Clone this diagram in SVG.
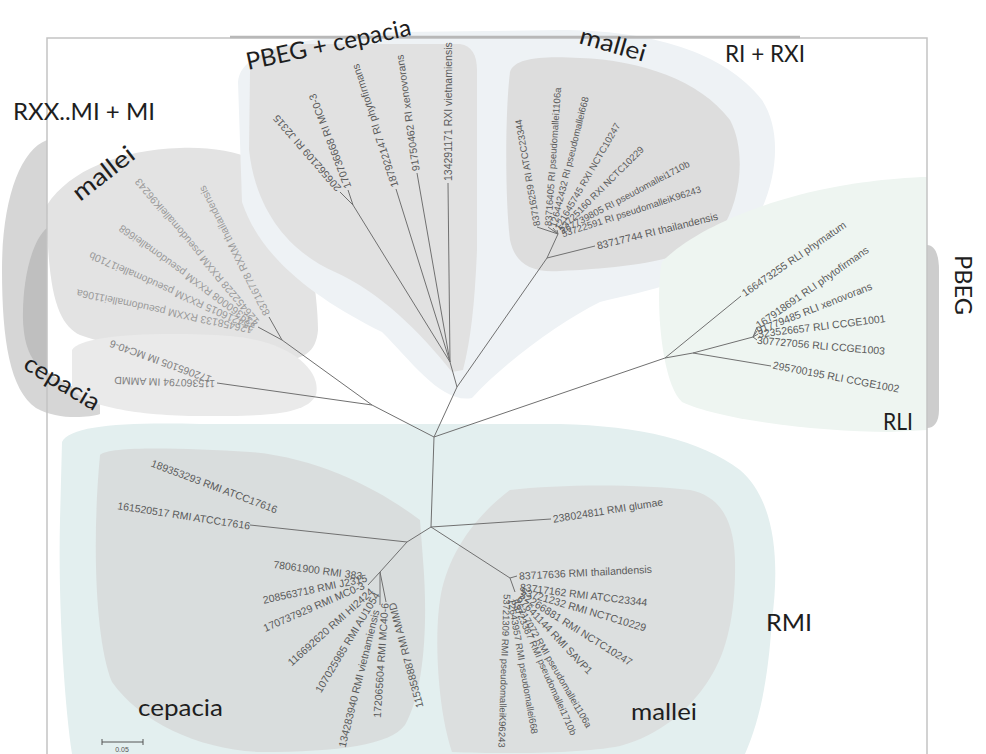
<svg xmlns="http://www.w3.org/2000/svg" width="986" height="754" viewBox="0 0 986 754">
  <style>
    .edge { stroke: #707070; stroke-width: 1; fill: none; }
    .lbl { font-family: "Liberation Sans", Arial, sans-serif; font-size: 10.5px; fill: #5a5a5a; }
    .sm { font-size: 9.5px; }
    .faint { fill: #9a9a9a; }
    .mid { fill: #808080; }
    .grp { font-family: Lato, "Open Sans", sans-serif; font-size: 24px; fill: #1e1e1e; }
    .frame { stroke: #c4c4c4; stroke-width: 1.5; fill: none; }
  </style>

  <rect width="986" height="754" fill="#ffffff"/>

  <!-- shaded clade regions -->
  <g id="regions">
    <!-- left side: RXX..MI + MI -->
    <path d="M47,140 C20,150 2,200 2,270 C2,340 10,390 36,408 C56,420 88,418 100,414 L100,398 C80,392 60,380 47,372 Z" fill="#d6d6d6"/>
    <path d="M47,228 C32,240 22,280 23,320 C24,350 34,366 47,372 Z" fill="#bfbfbf"/>
    <path d="M47,205 C70,170 120,150 180,148 C230,146 280,160 295,200 C310,240 318,300 318,330 C316,355 300,362 270,360 C200,358 120,350 80,335 C60,325 47,300 47,205 Z" fill="#e3e3e3"/>
    <path d="M72,350 C80,336 150,331 230,336 C290,341 322,370 316,395 C306,416 260,416 200,416 C140,416 80,406 72,388 Z" fill="#eaeaea"/>

    <!-- top: PBEG + cepacia and RI + RXI -->
    <path d="M238,82 C240,50 300,36 400,32 L560,30 C650,30 725,52 762,100 C788,140 772,205 742,242 C705,282 640,292 600,302 C560,322 505,362 472,398 C442,404 412,362 382,332 C322,302 262,262 242,202 Z" fill="#eef2f5"/>
    <path d="M250,72 C252,52 275,46 310,44 L460,44 C472,46 477,55 477,70 L477,250 C475,300 471,340 463,370 L452,372 C420,332 380,292 335,272 C290,252 256,212 249,150 Z" fill="#e1e1e1"/>
    <path d="M510,72 C515,58 540,56 580,58 C640,60 700,80 730,120 C746,150 742,200 720,232 C690,262 620,268 560,271 C530,273 515,263 510,240 C505,200 505,112 510,72 Z" fill="#dddddd"/>

    <!-- right: RLI and PBEG -->
    <path d="M662,262 C690,232 760,200 840,186 C880,179 915,177 927,177 L927,430 L890,432 C820,432 720,420 682,402 C660,382 655,292 662,262 Z" fill="#eef5f1"/>
    <path d="M927,245 C935,245 939,255 939,270 L939,410 C939,422 934,428 927,428 Z" fill="#cdcdcd"/>

    <!-- bottom: RMI -->
    <path d="M62,442 C70,426 120,422 200,424 L560,424 C640,426 700,440 740,470 C775,500 780,560 772,620 C768,680 760,720 745,754 L72,754 C64,700 58,600 60,520 Z" fill="#e3efef"/>
    <path d="M100,455 C110,446 180,448 250,452 C320,458 380,490 420,520 L423,560 C428,620 425,690 405,725 C390,745 340,752 260,752 C200,750 140,722 112,682 C95,640 92,540 100,455 Z" fill="#d9dddd"/>
    <path d="M510,490 C560,484 640,484 690,490 C720,496 734,520 735,560 C736,610 728,650 710,678 C690,710 660,735 620,746 C580,754 500,754 452,752 C438,710 434,640 440,600 C446,560 470,520 510,490 Z" fill="#dcdfdf"/>
  </g>

  <!-- plot frame -->
  <path class="frame" d="M47,754 L47,38 L927,38 L927,754"/>
  <path d="M230,37 L800,37" stroke="#b8b8b8" stroke-width="2.5" fill="none"/>

  <!-- tree branches -->
  <g id="edges" class="edge">
    <path d="M434,437 L457,387 L450,362"/>
    <path d="M450,362 L448,183 M450,362 L417,173 M450,362 L396,189 M450,362 L353,205 L348,190 M353,205 L340,192"/>
    <path d="M457,387 L547,258 L595,246 M547,258 L558,234"/>
    <path d="M558,234 L537,227 M558,234 L548,227 M558,234 L553,228 M558,234 L557,230"/>
    <path d="M434,437 L665,358 L741,296 M665,358 L693,353 L771,366 M693,353 L753,337"/>
    <path d="M753,337 L757,327 M753,337 L757,331 M753,337 L758,334 M753,337 L757,340"/>
    <path d="M434,437 L372,405 L217,383 M372,405 L282,340 L269,317 M282,340 L258,327"/>
    <path d="M434,437 L431,527 L551,519 M431,527 L510,578 L517,576 M510,578 L515,592"/>
    <path d="M431,527 L407,542 L250,525 M407,542 L380,572 L368,585 M380,572 L380,605 M380,572 L386,602"/>
  </g>

  <!-- PBEG + cepacia leaves -->
  <g id="leaf-pbeg-1"><text class="lbl" transform="translate(448,181) rotate(-90)" dy="0.35em">134291171 RXI vietnamiensis</text></g>
  <g id="leaf-pbeg-2"><text class="lbl" transform="translate(416,171) rotate(-98)" dy="0.35em">91750462 RI xenovorans</text></g>
  <g id="leaf-pbeg-3"><text class="lbl" transform="translate(395,187) rotate(-108)" dy="0.35em">187922147 RI phytofirmans</text></g>
  <g id="leaf-pbeg-4"><text class="lbl" transform="translate(348,188) rotate(-111)" dy="0.35em">170736668 RI MC0-3</text></g>
  <g id="leaf-pbeg-5"><text class="lbl" transform="translate(339,190) rotate(-131)" dy="0.35em">206562109 RI J2315</text></g>

  <!-- RI + RXI mallei leaves -->
  <g id="leaf-ri-1"><text class="lbl sm" transform="translate(537,226) rotate(-100)" dy="0.35em">83716259 RI ATCC23344</text></g>
  <g id="leaf-ri-2"><text class="lbl sm" transform="translate(548,226) rotate(-86)" dy="0.35em">83716405 RI pseudomallei1106a</text></g>
  <g id="leaf-ri-3"><text class="lbl sm" transform="translate(553,227) rotate(-76)" dy="0.35em">126442432 RI pseudomallei668</text></g>
  <g id="leaf-ri-4"><text class="lbl sm" transform="translate(557,229) rotate(-60)" dy="0.35em">121645745 RXI NCTC10247</text></g>
  <g id="leaf-ri-5"><text class="lbl sm" transform="translate(560,230) rotate(-45)" dy="0.35em">53725160 RXI NCTC10229</text></g>
  <g id="leaf-ri-6"><text class="lbl sm" transform="translate(561,231) rotate(-28)" dy="0.35em">167739805 RI pseudomallei1710b</text></g>
  <g id="leaf-ri-7"><text class="lbl sm" transform="translate(562,234) rotate(-18)" dy="0.35em">53722591 RI pseudomalleiK96243</text></g>
  <g id="leaf-ri-8"><text class="lbl" transform="translate(597,246) rotate(-14)" dy="0.35em">83717744 RI thailandensis</text></g>

  <!-- RLI leaves -->
  <g id="leaf-rli-1"><text class="lbl" transform="translate(743,294) rotate(-34.6)" dy="0.35em">166473255 RLI phymatum</text></g>
  <g id="leaf-rli-2"><text class="lbl" transform="translate(757,326) rotate(-35)" dy="0.35em">167918691 RLI phytofirmans</text></g>
  <g id="leaf-rli-3"><text class="lbl" transform="translate(757,331) rotate(-21.6)" dy="0.35em">91779485 RLI xenovorans</text></g>
  <g id="leaf-rli-4"><text class="lbl" transform="translate(758,334) rotate(-7)" dy="0.35em">323526657 RLI CCGE1001</text></g>
  <g id="leaf-rli-5"><text class="lbl" transform="translate(757,340) rotate(5)" dy="0.35em">307727056 RLI CCGE1003</text></g>
  <g id="leaf-rli-6"><text class="lbl" transform="translate(773,365) rotate(10.8)" dy="0.35em">295700195 RLI CCGE1002</text></g>

  <!-- RXX..MI mallei leaves -->
  <g id="leaf-rxx-1"><text class="lbl faint" transform="translate(267,315) rotate(-117)" dy="0.35em">83716778 RXXM thailandensis</text></g>
  <g id="leaf-rxx-2"><text class="lbl faint" transform="translate(257,323) rotate(-130)" dy="0.35em">126452228 RXXM pseudomalleiK96243</text></g>
  <g id="leaf-rxx-3"><text class="lbl faint" transform="translate(256,326) rotate(-144)" dy="0.35em">239360008 RXXM pseudomallei668</text></g>
  <g id="leaf-rxx-4"><text class="lbl faint" transform="translate(254,328) rotate(-156)" dy="0.35em">254216015 RXXM pseudomallei1710b</text></g>
  <g id="leaf-rxx-5"><text class="lbl faint" transform="translate(252,330) rotate(-168)" dy="0.35em">126458133 RXXM pseudomallei1106a</text></g>

  <!-- MI cepacia leaves -->
  <g id="leaf-mi-1"><text class="lbl mid" transform="translate(215,384) rotate(182)" dy="0.35em">115360794 IM AMMD</text></g>
  <g id="leaf-mi-2"><text class="lbl mid" transform="translate(211,380) rotate(200)" dy="0.35em">172065105 IM MC40-6</text></g>

  <!-- RMI leaves -->
  <g id="leaf-rmi-glumae"><text class="lbl" transform="translate(553,519) rotate(-9)" dy="0.35em">238024811 RMI glumae</text></g>
  <g id="leaf-rmi-m1"><text class="lbl" transform="translate(519,576) rotate(-3)" dy="0.35em">83717636 RMI thailandensis</text></g>
  <g id="leaf-rmi-m2"><text class="lbl" transform="translate(520,587) rotate(7)" dy="0.35em">83717162 RMI ATCC23344</text></g>
  <g id="leaf-rmi-m3"><text class="lbl" transform="translate(521,591) rotate(16.5)" dy="0.35em">53721232 RMI NCTC10229</text></g>
  <g id="leaf-rmi-m4"><text class="lbl" transform="translate(521,594) rotate(32)" dy="0.35em">52266881 RMI NCTC10247</text></g>
  <g id="leaf-rmi-m5"><text class="lbl" transform="translate(519,597) rotate(46.5)" dy="0.35em">67641144 RMI SAVP1</text></g>
  <g id="leaf-rmi-m6"><text class="lbl sm" transform="translate(516,600) rotate(60)" dy="0.35em">76217072 RMI pseudomallei1106a</text></g>
  <g id="leaf-rmi-m7"><text class="lbl sm" transform="translate(514,600) rotate(66)" dy="0.35em">53723387 RMI pseudomallei1710b</text></g>
  <g id="leaf-rmi-m8"><text class="lbl sm" transform="translate(511,599) rotate(80)" dy="0.35em">12643957 RMI pseudomallei668</text></g>
  <g id="leaf-rmi-m9"><text class="lbl sm" transform="translate(507,594) rotate(92)" dy="0.35em">53721309 RMI pseudomalleiK96243</text></g>

  <g id="leaf-rmi-c1"><text class="lbl" text-anchor="end" transform="translate(277,510) rotate(20.6)" dy="0.35em">189353293 RMI ATCC17616</text></g>
  <g id="leaf-rmi-c2"><text class="lbl" text-anchor="end" transform="translate(250,526) rotate(8.8)" dy="0.35em">161520517 RMI ATCC17616</text></g>
  <g id="leaf-rmi-c3"><text class="lbl" text-anchor="end" transform="translate(362,576) rotate(7.5)" dy="0.35em">78061900 RMI 383</text></g>
  <g id="leaf-rmi-c4"><text class="lbl" text-anchor="end" transform="translate(367,578) rotate(-12)" dy="0.35em">208563718 RMI J2315</text></g>
  <g id="leaf-rmi-c5"><text class="lbl" text-anchor="end" transform="translate(364,585) rotate(-23.5)" dy="0.35em">170737929 RMI MC0-3</text></g>
  <g id="leaf-rmi-c6"><text class="lbl" text-anchor="end" transform="translate(372,590) rotate(-41.7)" dy="0.35em">116692620 RMI HI2424</text></g>
  <g id="leaf-rmi-c7"><text class="lbl" text-anchor="end" transform="translate(377,593) rotate(-59)" dy="0.35em">107025985 RMI AU1054</text></g>
  <g id="leaf-rmi-c8"><text class="lbl" text-anchor="end" transform="translate(376,610) rotate(-76)" dy="0.35em">134283940 RMI vietnamiensis</text></g>
  <g id="leaf-rmi-c9"><text class="lbl" text-anchor="end" transform="translate(385,603) rotate(-86)" dy="0.35em">172065604 RMI MC40-6</text></g>
  <g id="leaf-rmi-c10"><text class="lbl" text-anchor="end" transform="translate(392,603) rotate(-105)" dy="0.35em">115358887 RMI AMMD</text></g>

  <!-- clade captions -->
  <g id="cap-rxx"><text class="grp" x="13" y="120" textLength="142" lengthAdjust="spacingAndGlyphs">RXX..MI + MI</text></g>
  <g id="cap-rxx-mallei"><text class="grp" transform="translate(80,202) rotate(-38)" textLength="72" lengthAdjust="spacingAndGlyphs">mallei</text></g>
  <g id="cap-rxx-cepacia"><text class="grp" transform="translate(22,368) rotate(31)" textLength="84" lengthAdjust="spacingAndGlyphs">cepacia</text></g>
  <g id="cap-pbeg-cepacia"><text class="grp" transform="translate(248,70) rotate(-12)" textLength="168" lengthAdjust="spacingAndGlyphs">PBEG + cepacia</text></g>
  <g id="cap-ri-mallei"><text class="grp" transform="translate(578,43) rotate(16)" textLength="68" lengthAdjust="spacingAndGlyphs">mallei</text></g>
  <g id="cap-ri"><text class="grp" x="725" y="62" textLength="80" lengthAdjust="spacingAndGlyphs">RI + RXI</text></g>
  <g id="cap-pbeg"><text class="grp" transform="translate(955,255) rotate(90)" textLength="60" lengthAdjust="spacingAndGlyphs">PBEG</text></g>
  <g id="cap-rli"><text class="grp" x="883" y="430" textLength="30" lengthAdjust="spacingAndGlyphs">RLI</text></g>
  <g id="cap-rmi"><text class="grp" x="766" y="631" textLength="46" lengthAdjust="spacingAndGlyphs">RMI</text></g>
  <g id="cap-rmi-cepacia"><text class="grp" x="138" y="716" textLength="85" lengthAdjust="spacingAndGlyphs">cepacia</text></g>
  <g id="cap-rmi-mallei"><text class="grp" x="631" y="720" textLength="66" lengthAdjust="spacingAndGlyphs">mallei</text></g>

  <!-- scale bar -->
  <g id="scale">
    <path d="M102,742 L143,742 M102,739 L102,745 M143,739 L143,745" stroke="#555" stroke-width="1" fill="none"/>
    <text x="122" y="752" text-anchor="middle" font-family="Liberation Sans, Arial, sans-serif" font-size="7" fill="#555">0.05</text>
  </g>
</svg>
